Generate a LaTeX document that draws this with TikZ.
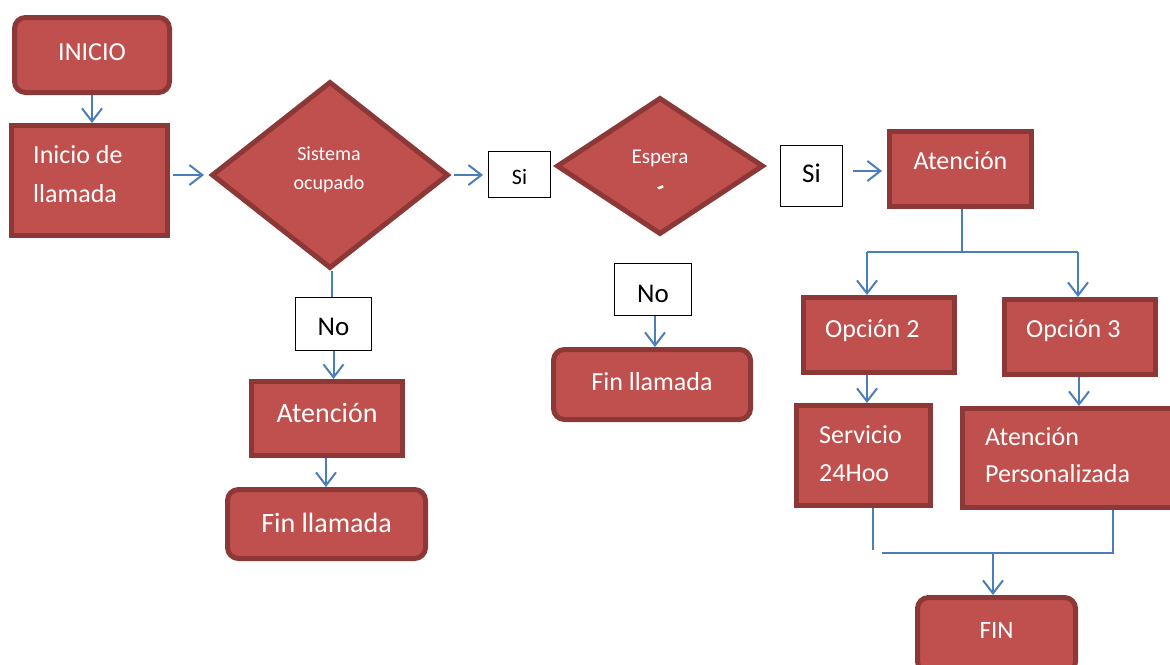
\documentclass[tikz,border=0pt]{standalone}
\usepackage{fontspec}
\setmainfont{Carlito}
\usetikzlibrary{arrows.meta,shapes.geometric}
\definecolor{boxfill}{HTML}{C0504D}
\definecolor{boxline}{HTML}{8C3836}
\definecolor{link}{HTML}{4A7EBB}
\newcommand{\fs}[1]{\fontsize{#1}{#1}\selectfont}
\tikzset{
  flow/.style={draw=boxline, fill=boxfill, line width=5pt, inner sep=0pt},
  term/.style={flow, rounded corners=11pt},
  dec/.style={flow, diamond},
  tag/.style={draw=black, fill=white, line width=1.4pt, inner sep=0pt},
  txt/.style={text=white, inner sep=0pt, anchor=base, font=\fs{26}},
  ltxt/.style={txt, anchor=base west},
  btxt/.style={inner sep=0pt, anchor=base, font=\fs{26}},
  wire/.style={draw=link, line width=2pt},
  arr/.style={wire, -{Straight Barb[length=13pt,width=20pt,line width=2pt]}},
}
\begin{document}
\begin{tikzpicture}[x=1pt, y=-1pt]
\useasboundingbox (0,0) rectangle (1170,664);
\clip (0,0) rectangle (1170,664);
\fill[white] (0,0) rectangle (1170,664);

% left column
\node[term, minimum width=155, minimum height=75] (inicio) at (92,55) {};
\node[txt] (tinicio) at (92,60) {INICIO};
\node[flow, minimum width=156, minimum height=110] (llamada) at (89.5,180.5) {};
\node[ltxt] (tllam1) at (33,163) {Inicio de};
\node[ltxt] (tllam2) at (33,202) {llamada};

% first decision
\node[dec, minimum width=237, minimum height=187] (sistema) at (330,175) {};
\node[txt, font=\fs{20}] (tsis1) at (329,160) {Sistema};
\node[txt, font=\fs{20}] (tsis2) at (329,189) {ocupado};

\node[tag, minimum width=75.5, minimum height=52.5] (no1) at (333.5,324) {};
\node[btxt, font=\fs{27}] (tno1) at (333.5,335) {No};
\node[flow, minimum width=151, minimum height=74] (aten1) at (327,418.5) {};
\node[txt, font=\fs{28}] (taten1) at (327,422) {Atención};
\node[term, minimum width=198, minimum height=69] (fin1) at (326.5,524) {};
\node[txt, font=\fs{28}] (tfin1) at (326.5,532) {Fin llamada};

% second decision
\node[tag, minimum width=61.5, minimum height=45.5] (si1) at (519.5,174.5) {};
\node[btxt, font=\fs{22}] (tsi1) at (519.5,184) {Si};
\node[dec, minimum width=207, minimum height=137] (espera) at (660,166) {};
\node[txt, font=\fs{21}] (tesp) at (660,163) {Espera};
\fill[white] (657,187.5) -- (663,185) -- (663.5,187.5) -- (659,189.5) -- cycle;

\node[tag, minimum width=76.5, minimum height=51.5] (no2) at (653,289.5) {};
\node[btxt, font=\fs{27}] (tno2) at (653,302) {No};
\node[term, minimum width=197, minimum height=70] (fin2) at (652,384.5) {};
\node[txt] (tfin2) at (652,390) {Fin llamada};

% attention branch
\node[tag, minimum width=61.5, minimum height=60.5] (si2) at (811.5,176) {};
\node[btxt, font=\fs{27}] (tsi2) at (811.5,182) {Si};
\node[flow, minimum width=142, minimum height=75] (aten2) at (960.5,169) {};
\node[txt] (taten2) at (960.5,169) {Atención};

\node[flow, minimum width=151, minimum height=75] (op2) at (879,335) {};
\node[ltxt] (top2) at (825,337) {Opción 2};
\node[flow, minimum width=151, minimum height=75] (op3) at (1080,337) {};
\node[ltxt] (top3) at (1026,337) {Opción 3};

\node[flow, minimum width=134, minimum height=100] (serv) at (863.5,455.5) {};
\node[ltxt] (tserv1) at (819,443) {Servicio};
\node[ltxt] (tserv2) at (819,481) {24Hoo};
\node[flow, minimum width=225, minimum height=99] (pers) at (1075,458) {};
\node[ltxt] (tpers1) at (985,445) {Atención};
\node[ltxt] (tpers2) at (985,482) {Personalizada};

\node[term, minimum width=158, minimum height=75] (fin3) at (996.5,635) {};
\node[txt, font=\fs{25}] (tfin3) at (996.5,638) {FIN};

% connectors
\draw[arr] (inicio.south) -- (inicio.south |- llamada.north);
\draw[arr, shorten <=3pt, shorten >=5pt] (llamada.east |- sistema.west) -- (sistema.west);
\draw[arr, shorten <=3pt, shorten >=5pt] (sistema.east) -- (sistema.east -| si1.west);
\draw[wire, line width=1.6pt] (sistema.south) ++(2,0) -- (332,297);
\draw[arr] (no1.south) -- (no1.south |- aten1.north);
\draw[arr] (aten1.south) ++(-1,0) -- (326,487);
\draw[arr] (no2.south) ++(2,0) -- (655,347);
\draw[arr, shorten <=10pt, shorten >=5pt] (si2.east |- aten2.west) ++(0,2) -- ([yshift=-2pt]aten2.west);

\coordinate (fork) at (962,252);
\coordinate (forkl) at (867,252);
\coordinate (forkr) at (1078,252);
\draw[wire] (aten2.south -| fork) -- (fork);
\draw[wire] (forkl) -- (forkr);
\draw[arr] (forkl) -- (forkl |- op2.north);
\draw[arr] (forkr) -- (forkr |- op3.north);
\draw[arr] (op2.south -| forkl) -- (forkl |- serv.north);
\draw[arr] (op3.south -| 1079,0) -- (1079,406);

\coordinate (joinl) at (873,550);
\coordinate (joinh) at (882,553);
\coordinate (joinr) at (1113,553);
\coordinate (join) at (993,553);
\draw[wire] (serv.south -| joinl) -- (joinl);
\draw[wire] (pers.south -| joinr) -- (joinr) -- (joinh);
\draw[arr] (join) -- (join |- fin3.north);
\end{tikzpicture}
\end{document}
